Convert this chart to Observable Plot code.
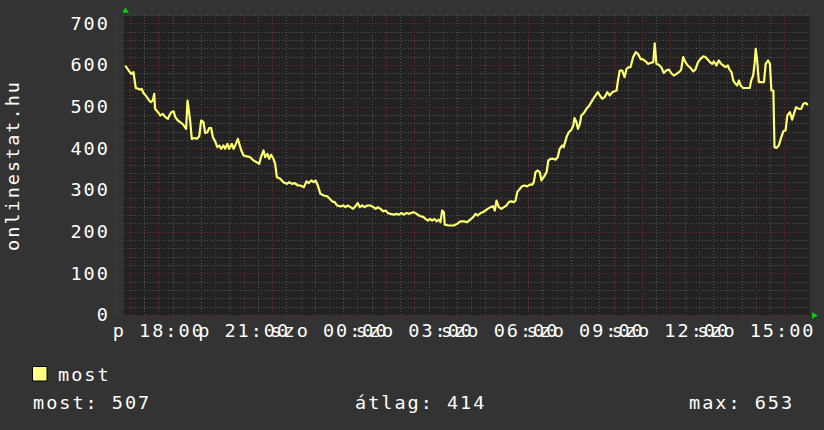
<!DOCTYPE html>
<html><head><meta charset="utf-8">
<script src="https://cdn.jsdelivr.net/npm/d3@7"></script>
<script src="https://cdn.jsdelivr.net/npm/@observablehq/plot@0.6"></script>
<style>
html,body{margin:0;padding:0;background:#333;}
#chart{width:824px;height:430px;position:relative;overflow:hidden;background:#333;}
#chart svg{display:block;}
.lg text{font-family:'DejaVu Sans Mono',monospace;font-size:18.5px;letter-spacing:2px;fill:#fff;}
</style></head><body><div id="chart"></div>
<script>
// time in hours from Friday 00:00 (24 = Saturday 00:00)
const hours = [
16.84,16.94,17.03,17.11,17.19,17.29,17.35,17.40,17.46,17.54,17.64,17.72,17.79,17.84,17.87,17.97,18.05,18.14,18.23,18.32,
18.37,18.44,18.52,18.58,18.67,18.75,18.83,18.90,18.96,19.01,19.04,19.10,19.16,19.26,19.34,19.42,19.49,19.57,19.63,19.71,
19.77,19.84,19.90,19.98,20.06,20.13,20.19,20.27,20.33,20.41,20.47,20.57,20.63,20.71,20.78,20.83,20.90,20.98,21.09,21.21,
21.33,21.44,21.53,21.60,21.68,21.74,21.82,21.88,21.95,22.03,22.09,22.15,22.27,22.38,22.50,22.58,22.68,22.77,22.89,
22.98,23.10,23.19,23.27,23.36,23.45,23.51,23.59,23.68,23.80,23.92,24.01,24.09,24.18,24.27,24.39,24.48,24.56,24.64,24.74,
24.83,24.91,24.99,25.07,25.15,25.23,25.33,25.44,25.54,25.62,25.70,25.79,25.89,25.97,26.05,26.14,26.26,26.36,26.44,26.53,
26.61,26.71,26.79,26.87,26.96,27.06,27.14,27.22,27.31,27.37,27.46,27.53,27.61,27.69,27.76,27.84,27.90,27.96,28.02,28.05,
28.19,28.37,28.49,28.60,28.72,28.84,
29.05,29.13,29.21,29.31,29.40,29.48,29.56,29.66,29.75,29.81,29.87,29.95,30.04,30.13,30.22,30.30,30.39,30.48,30.54,30.60,
30.69,30.77,30.85,30.95,31.04,31.13,31.18,31.24,31.32,31.39,31.45,31.53,31.63,31.69,31.77,31.86,31.94,32.02,32.09,32.18,
32.23,32.33,32.41,32.50,32.57,32.61,32.68,32.73,32.80,32.85,32.94,33.03,33.11,33.20,33.27,33.35,33.43,33.50,33.59,33.67,
33.76,33.85,33.94,34.02,34.09,34.13,34.20,34.29,34.37,34.44,34.52,
34.58,34.67,34.76,34.84,34.93,35.03,35.11,35.19,35.28,35.38,35.43,35.49,35.57,35.66,35.75,35.83,35.93,36.01,36.10,36.20,
36.28,36.36,36.43,36.51,36.59,36.69,36.78,36.86,36.95,37.04,37.14,37.22,37.30,37.37,37.45,37.51,37.60,37.68,37.77,37.84,
37.92,38.00,38.06,38.13,38.19,38.27,38.33,38.39,38.45,38.54,38.66,38.77,38.82,38.89,38.94,38.98,39.03,39.09,39.17,39.27,
39.33,39.41,39.48,39.53,39.60,39.64,39.71,39.79,39.88,39.95,40.03,40.09,40.18,40.26,40.32,40.40,40.50,40.58,40.65,40.73,
40.79
];
const values = [
598,588,580,584,546,544,542,544,534,528,518,512,516,532,496,488,480,484,476,472,
480,488,490,476,468,464,460,454,448,516,500,468,424,426,424,430,468,464,438,440,
450,450,428,418,404,408,400,408,400,412,400,412,400,412,424,412,396,384,382,380,
372,368,364,382,396,380,388,376,386,376,364,332,328,320,316,320,316,318,312,
312,308,322,318,324,320,324,312,292,288,286,280,274,272,264,262,264,260,264,260,
256,262,270,260,264,260,264,264,260,256,260,256,250,252,246,244,242,244,242,246,
242,246,244,246,248,244,240,238,236,232,228,232,228,232,226,230,224,252,248,218,
216,216,220,226,226,224,
236,244,240,246,248,252,256,260,262,252,276,260,256,260,264,272,274,272,276,296,
304,310,312,310,314,314,320,344,348,344,324,332,344,372,376,376,374,380,400,408,
404,428,440,446,456,474,464,448,460,480,486,496,502,512,520,528,536,528,520,524,
536,528,536,538,540,560,588,588,572,592,596,
596,620,632,628,616,614,610,604,606,608,653,604,602,596,582,588,590,582,576,580,
584,590,620,608,600,594,586,590,608,616,622,620,614,608,604,610,600,612,604,600,
596,600,590,584,564,556,552,564,552,546,546,546,564,576,604,640,612,560,560,560,
604,612,604,540,540,404,402,408,428,442,444,480,488,470,484,500,496,496,508,510,
507
];
const xDomain = [16.77, 40.87];
const yDomain = [0, 720];
const yTicks = [0, 100, 200, 300, 400, 500, 600, 700];
const yMinorTicks = d3.range(0, 721, 20).filter(v => v % 100 !== 0);
const hourGrid = d3.range(17, 41);
const halfHourGrid = d3.range(17, 41).map(h => h - 0.5);
const xTicks = [18, 21, 24, 27, 30, 33, 36, 39];
const xTickLabels = ["p 18:00", "p 21:00", "szo 00:00", "szo 03:00", "szo 06:00", "szo 09:00", "szo 12:00", "szo 15:00"];
const yTitle = "onlinestat.hu";
const seriesName = "most";
const statLabels = ["most", "átlag", "max"];
const statValues = [507, 414, 653];

const data = hours.map((h, i) => ({h, v: values[i]}));
const FONT = "'DejaVu Sans Mono', monospace";
const grid = {strokeDasharray: "1,2", shapeRendering: "crispEdges"};

const plot = Plot.plot({
  width: 824, height: 350,
  marginLeft: 123.3, marginRight: 15, marginTop: 15, marginBottom: 35,
  x: {domain: xDomain, label: null},
  y: {domain: yDomain, label: null},
  style: {background: "#333", color: "#fff", fontFamily: FONT, fontSize: "18.5px", letterSpacing: "2px", overflow: "visible"},
  marks: [
    Plot.frame({fill: "#222", stroke: null}),
    Plot.ruleY(yMinorTicks, {...grid, stroke: "#555"}),
    Plot.ruleX(halfHourGrid, {...grid, stroke: "#555", y1: yDomain[0], y2: yDomain[1], insetBottom: -2}),
    Plot.ruleY(yTicks, {...grid, stroke: "#7a2c2c"}),
    Plot.ruleX(hourGrid, {...grid, stroke: "#7a2c2c", y1: yDomain[0], y2: yDomain[1], insetBottom: -2}),
    Plot.lineY(data, {x: "h", y: "v", stroke: "#ffff70", strokeWidth: 2.2}),
    Plot.axisY({ticks: yTicks, tickSize: 0, tickPadding: 14, fill: "#fff", fontSize: 18.5, label: null}),
    Plot.axisX({ticks: xTicks, tickFormat: d => xTickLabels[xTicks.indexOf(d)], tickSize: 0, tickPadding: 8.5, fill: "#fff", fontSize: 18.5, label: null}),
    Plot.text([yTitle], {frameAnchor: "left", rotate: -90, dx: -111, textAnchor: "middle", lineAnchor: "middle", fill: "#fff", fontSize: 18.5}),
    Plot.dot([0], {x: () => xDomain[0], y: () => yDomain[1], symbol: "triangle", r: 2.4, fill: "#1c1", stroke: null, dx: 1.7, dy: -4.5}),
    Plot.dot([0], {x: () => xDomain[1], y: () => yDomain[0], symbol: "triangle", r: 2.4, fill: "#1c1", stroke: null, rotate: 90, dx: 4.5})
  ]
});
const chart = document.getElementById("chart");
chart.appendChild(plot);

// legend below the plot
const NS = "http://www.w3.org/2000/svg";
const lg = document.createElementNS(NS, "svg");
lg.setAttribute("width", 824); lg.setAttribute("height", 80); lg.setAttribute("class", "lg");
const sq = document.createElementNS(NS, "rect");
sq.setAttribute("x", 32.5); sq.setAttribute("y", 16.5); sq.setAttribute("width", 14.5); sq.setAttribute("height", 14.5);
sq.setAttribute("fill", "#ffff80"); sq.setAttribute("stroke", "#000"); sq.setAttribute("stroke-width", 1);
lg.appendChild(sq);
function addText(str, x, y) {
  const t = document.createElementNS(NS, "text");
  t.setAttribute("x", x); t.setAttribute("y", y); t.textContent = str; lg.appendChild(t);
}
addText(seriesName, 58, 31);
const statX = [33, 355, 689];
statLabels.forEach((l, i) => addText(`${l}: ${statValues[i]}`, statX[i], 59));
chart.appendChild(lg);
</script>
</body></html>
